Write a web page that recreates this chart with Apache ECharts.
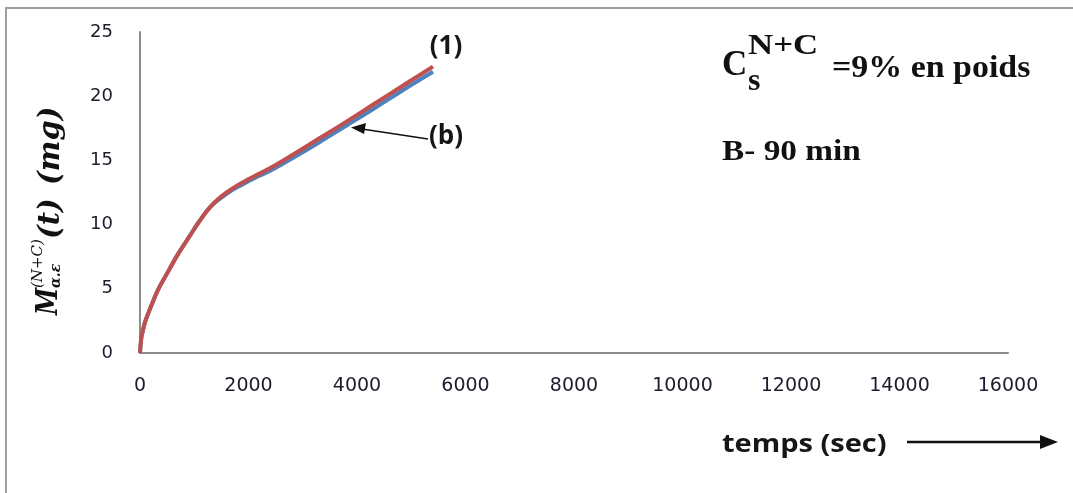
<!DOCTYPE html>
<html>
<head>
<meta charset="utf-8">
<script src="https://cdn.jsdelivr.net/npm/echarts@6/dist/echarts.min.js"></script>
<style>
  html, body { margin: 0; padding: 0; background: #fff; }
  #chart { width: 1073px; height: 493px; }
</style>
</head>
<body>
<div id="chart"></div>
<script>
// Time samples (s) and absorbed mass (mg) for the two curves
const timeSec = [0, 25, 50, 100, 200, 330, 500, 700, 900, 1100, 1300, 1500, 1700, 1900, 2100, 2400, 2800, 3300, 3800, 4300, 4800, 5400];
const massCurve1 = [0, 1.2, 1.7, 2.5, 3.6, 4.9, 6.2, 7.7, 9.0, 10.3, 11.4, 12.2, 12.8, 13.3, 13.75, 14.4, 15.4, 16.7, 18.0, 19.35, 20.7, 22.3];
const massCurveB = [0, 1.2, 1.7, 2.5, 3.6, 4.9, 6.2, 7.7, 9.0, 10.3, 11.4, 12.1, 12.7, 13.15, 13.6, 14.2, 15.15, 16.4, 17.7, 19.0, 20.35, 21.9];
const xTicks = [0, 2000, 4000, 6000, 8000, 10000, 12000, 14000, 16000];
const yTicks = [0, 5, 10, 15, 20, 25];

const pairs = (xs, ys) => xs.map((x, i) => [x, ys[i]]);

const chart = echarts.init(document.getElementById('chart'));

const axisGray = '#8c8c8c';
const labelColor = '#1c1c2c';
const mathFont = (px) => 'italic bold ' + px + 'px "DejaVu Serif", serif';

chart.setOption({
  animation: false,
  grid: { left: 140, right: 65, top: 32, bottom: 140 },
  xAxis: {
    type: 'value',
    min: xTicks[0],
    max: xTicks[xTicks.length - 1],
    interval: 2000,
    axisLine: { show: true, lineStyle: { color: axisGray, width: 2 } },
    axisTick: { show: false },
    splitLine: { show: false },
    axisLabel: {
      margin: 24,
      color: labelColor,
      fontFamily: '"DejaVu Sans", sans-serif',
      fontSize: 19,
      formatter: (v) => String(v)
    }
  },
  yAxis: {
    type: 'value',
    min: yTicks[0],
    max: yTicks[yTicks.length - 1],
    interval: 5,
    axisLine: { show: true, lineStyle: { color: axisGray, width: 2 } },
    axisTick: { show: false },
    splitLine: { show: false },
    axisLabel: {
      margin: 27,
      color: labelColor,
      fontFamily: '"DejaVu Sans", sans-serif',
      fontSize: 18
    }
  },
  series: [
    {
      name: '(b)',
      type: 'line',
      data: pairs(timeSec, massCurveB),
      smooth: 0.4,
      showSymbol: false,
      lineStyle: { color: '#4f81bd', width: 4 },
      z: 2
    },
    {
      name: '(1)',
      type: 'line',
      data: pairs(timeSec, massCurve1),
      smooth: 0.4,
      showSymbol: false,
      lineStyle: { color: '#c0504d', width: 4 },
      z: 3
    }
  ],
  graphic: [
    // frame around the whole figure
    {
      type: 'rect',
      shape: { x: 6, y: 8, width: 1100, height: 600 },
      style: { fill: 'none', stroke: '#a0a0a0', lineWidth: 2 },
      silent: true
    },
    // curve labels
    {
      type: 'text', x: 446, y: 47,
      style: { text: '(1)', font: 'bold 26px "Open Sans", sans-serif', fill: '#161616', textAlign: 'center', textVerticalAlign: 'middle' }
    },
    {
      type: 'text', x: 446, y: 137,
      style: { text: '(b)', font: 'bold 26px "Open Sans", sans-serif', fill: '#161616', textAlign: 'center', textVerticalAlign: 'middle' }
    },
    // pointer from "(b)" to its curve
    {
      type: 'line',
      shape: { x1: 428, y1: 139, x2: 362, y2: 129 },
      style: { stroke: '#111', lineWidth: 1.5 }
    },
    {
      type: 'polygon',
      shape: { points: [[351, 127.5], [366, 123], [364, 134]] },
      style: { fill: '#111' }
    },
    // concentration annotation
    {
      type: 'text', x: 722, y: 66,
      style: { text: 'C', font: 'bold 35px "Liberation Serif", serif', fill: '#111', textAlign: 'left', textVerticalAlign: 'middle' }
    },
    {
      type: 'text', x: 748, y: 47, scaleX: 1.2,
      style: { text: 'N+C', font: 'bold 29px "Liberation Serif", serif', fill: '#111', textAlign: 'left', textVerticalAlign: 'middle' }
    },
    {
      type: 'text', x: 748, y: 82,
      style: { text: 's', font: 'bold 32px "Liberation Serif", serif', fill: '#111', textAlign: 'left', textVerticalAlign: 'middle' }
    },
    {
      type: 'text', x: 832, y: 69, scaleX: 1.06,
      style: { text: '=9% en poids', font: 'bold 32px "Liberation Serif", serif', fill: '#111', textAlign: 'left', textVerticalAlign: 'middle' }
    },
    {
      type: 'text', x: 722, y: 152, scaleX: 1.11,
      style: { text: 'B- 90 min', font: 'bold 30px "Liberation Serif", serif', fill: '#111', textAlign: 'left', textVerticalAlign: 'middle' }
    },
    // x axis title with arrow
    {
      type: 'text', x: 722, y: 445, scaleX: 1.16,
      style: { text: 'temps (sec)', font: 'bold 25px "Open Sans", sans-serif', fill: '#161616', textAlign: 'left', textVerticalAlign: 'middle' }
    },
    {
      type: 'line',
      shape: { x1: 907, y1: 442, x2: 1042, y2: 442 },
      style: { stroke: '#111', lineWidth: 2.5 }
    },
    {
      type: 'polygon',
      shape: { points: [[1058, 442], [1040, 435], [1040, 449]] },
      style: { fill: '#111' }
    },
    // y axis title, rotated to read bottom-to-top
    {
      type: 'group',
      x: 61, y: 315,
      rotation: Math.PI / 2,
      children: [
        { type: 'text', x: 0, y: -12, scaleX: 0.85, style: { text: 'M', font: mathFont(29), fill: '#111', textAlign: 'left', textVerticalAlign: 'middle' } },
        { type: 'text', x: 27, y: -23, style: { text: '(N+C)', font: 'italic 15px "DejaVu Serif", serif', fill: '#111', textAlign: 'left', textVerticalAlign: 'middle' } },
        { type: 'text', x: 27, y: -5, style: { text: 'α.ε', font: mathFont(14), fill: '#111', textAlign: 'left', textVerticalAlign: 'middle' } },
        { type: 'text', x: 76, y: -10, style: { text: '(t)', font: mathFont(29), fill: '#111', textAlign: 'left', textVerticalAlign: 'middle' } },
        { type: 'text', x: 130, y: -10, style: { text: '(mg)', font: mathFont(29), fill: '#111', textAlign: 'left', textVerticalAlign: 'middle' } }
      ]
    }
  ]
});
</script>
</body>
</html>
